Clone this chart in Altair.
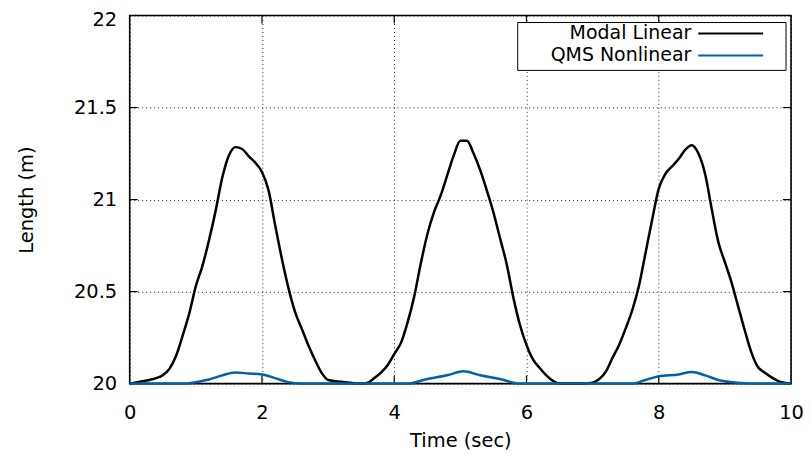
import altair as alt
import pandas as pd

# ---- data ----
time_modal = [0.0, 0.15, 0.3, 0.5, 0.6, 0.7, 0.8, 0.9, 1.0, 1.1, 1.2, 1.3, 1.4, 1.5, 1.6, 1.7,
              1.8, 1.9, 2.0, 2.1, 2.2, 2.3, 2.4, 2.5, 2.6, 2.7, 2.8, 2.9, 3.0, 3.2, 3.5, 3.6,
              3.7, 3.8, 3.9, 4.0, 4.1, 4.2, 4.3, 4.4, 4.5, 4.6, 4.7, 4.8, 4.9, 5.0, 5.1, 5.2,
              5.3, 5.4, 5.5, 5.6, 5.7, 5.8, 5.9, 6.0, 6.1, 6.2, 6.3, 6.4, 6.5, 6.8, 7.0, 7.1,
              7.2, 7.3, 7.4, 7.5, 7.6, 7.7, 7.8, 7.9, 8.0, 8.1, 8.2, 8.3, 8.4, 8.5, 8.6, 8.7,
              8.8, 8.9, 9.0, 9.1, 9.2, 9.3, 9.4, 9.5, 9.6, 9.7, 9.8, 9.9, 10.0]
length_modal = [20.0, 20.01, 20.02, 20.045, 20.08, 20.15, 20.26, 20.38, 20.53, 20.64, 20.78,
                20.94, 21.12, 21.24, 21.285, 21.275, 21.235, 21.2, 21.15, 21.05, 20.86, 20.68,
                20.52, 20.39, 20.30, 20.21, 20.13, 20.06, 20.02, 20.01, 20.0, 20.005, 20.03,
                20.06, 20.1, 20.16, 20.22, 20.33, 20.47, 20.65, 20.81, 20.93, 21.02, 21.13,
                21.24, 21.32, 21.32, 21.25, 21.16, 21.05, 20.93, 20.79, 20.65, 20.47, 20.32,
                20.21, 20.13, 20.085, 20.045, 20.015, 20.0, 20.0, 20.005, 20.025, 20.065,
                20.14, 20.21, 20.30, 20.40, 20.53, 20.71, 20.89, 21.06, 21.14, 21.18, 21.22,
                21.27, 21.295, 21.25, 21.14, 20.95, 20.77, 20.66, 20.55, 20.42, 20.29, 20.17,
                20.09, 20.06, 20.035, 20.015, 20.005, 20.0]
time_qms = [0.0, 0.8, 1.0, 1.2, 1.4, 1.6, 1.8, 2.0, 2.2, 2.4, 2.6, 4.2, 4.5, 4.8, 5.05, 5.3,
            5.6, 5.9, 7.6, 7.8, 8.0, 8.3, 8.5, 8.7, 8.9, 9.2, 9.5, 10.0]
length_qms = [20.0, 20.0, 20.008, 20.022, 20.045, 20.06, 20.055, 20.05, 20.03, 20.008, 20.0,
              20.0, 20.025, 20.045, 20.067, 20.045, 20.025, 20.0, 20.0, 20.02, 20.04, 20.05,
              20.063, 20.045, 20.02, 20.005, 20.0, 20.0]

series_names = ["Modal Linear", "QMS Nonlinear"]
series_colors = ["#000000", "#0060ad"]

x_ticks = [0, 2, 4, 6, 8, 10]
y_ticks = [20, 20.5, 21, 21.5, 22]
x_inner_ticks = [2, 4, 6, 8]
y_inner_ticks = [20.5, 21, 21.5]

W, H = 663, 369
FONT = "DejaVu Sans"
FS = 19.5

df = pd.concat([
    pd.DataFrame({"time": time_modal, "length": length_modal, "series": series_names[0]}),
    pd.DataFrame({"time": time_qms, "length": length_qms, "series": series_names[1]}),
])

x_scale = alt.Scale(domain=[0, 10], nice=False, zero=False)
y_scale = alt.Scale(domain=[20, 22], nice=False, zero=False)
color_scale = alt.Scale(domain=series_names, range=series_colors)

x_axis = alt.Axis(values=x_ticks, format="~r", title="Time (sec)", ticks=False, tickSize=0,
                  labelPadding=20, labelFlush=False, labelOverlap=False,
                  titleY=57, titleBaseline="middle", domain=False, grid=True)
y_axis = alt.Axis(values=y_ticks, format="~r", title="Length (m)", ticks=False, tickSize=0,
                  labelPadding=13, labelFlush=False, labelOverlap=False, labelBaseline="middle",
                  labelOffset={"condition": {"test": "datum.value >= 22", "value": 4}, "value": 0},
                  titleX=-103, titleBaseline="middle", titleAngle=270, domain=False, grid=True)

lines = alt.Chart(df).mark_line(strokeWidth=2.5, interpolate="monotone").encode(
    x=alt.X("time:Q", scale=x_scale, axis=x_axis),
    y=alt.Y("length:Q", scale=y_scale, axis=y_axis),
    color=alt.Color("series:N", scale=color_scale, legend=None),
    detail="series:N",
)

ydf = pd.DataFrame({"length": y_inner_ticks})
xdf = pd.DataFrame({"time": x_inner_ticks})

tick_style = dict(color="black", strokeWidth=1.2)
left_ticks = alt.Chart(ydf).mark_rule(**tick_style).encode(
    y=alt.Y("length:Q", scale=y_scale, axis=y_axis), x=alt.value(0), x2=alt.value(8))
right_ticks = alt.Chart(ydf).mark_rule(**tick_style).encode(
    y=alt.Y("length:Q", scale=y_scale, axis=y_axis), x=alt.value(W - 8), x2=alt.value(W))
bottom_ticks = alt.Chart(xdf).mark_rule(**tick_style).encode(
    x=alt.X("time:Q", scale=x_scale, axis=x_axis), y=alt.value(H - 8), y2=alt.value(H))
top_ticks = alt.Chart(xdf).mark_rule(**tick_style).encode(
    x=alt.X("time:Q", scale=x_scale, axis=x_axis), y=alt.value(0), y2=alt.value(8))

# ---- key (legend box drawn as in gnuplot: text right-aligned, sample line on the right) ----
key_box = alt.Chart(pd.DataFrame({"k": [0]})).mark_rect(
    fill="white", stroke="black", strokeWidth=1).encode(
    x=alt.value(389), x2=alt.value(658), y=alt.value(7), y2=alt.value(55))

key_layers = [key_box]
row_y = [18, 40]
for name, ry in zip(series_names, row_y):
    kdf = pd.DataFrame({"series": [name]})
    key_layers.append(alt.Chart(kdf).mark_text(
        align="right", baseline="middle", font=FONT, fontSize=19, color="black").encode(
        text="series:N", x=alt.value(563), y=alt.value(ry)))
    key_layers.append(alt.Chart(kdf).mark_rule(strokeWidth=2).encode(
        color=alt.Color("series:N", scale=color_scale, legend=None),
        x=alt.value(570), x2=alt.value(635), y=alt.value(ry)))

chart = alt.layer(left_ticks, right_ticks, bottom_ticks, top_ticks, lines, *key_layers).properties(
    width=W, height=H,
    autosize=alt.AutoSizeParams(type="none"),
    padding={"left": 122, "top": 7, "right": 12, "bottom": 70},
    background="white",
).configure_view(
    stroke="black", strokeWidth=1.6, fill="white"
).configure_axis(
    labelFont=FONT, titleFont=FONT, labelFontSize=FS, titleFontSize=FS,
    titleFontWeight="normal", labelColor="black", titleColor="black",
    gridColor="black", gridDash=[1, 3], gridWidth=1, gridOpacity=0.85,
)

chart.save("out.html", embed_options={"renderer": "svg", "actions": False})
